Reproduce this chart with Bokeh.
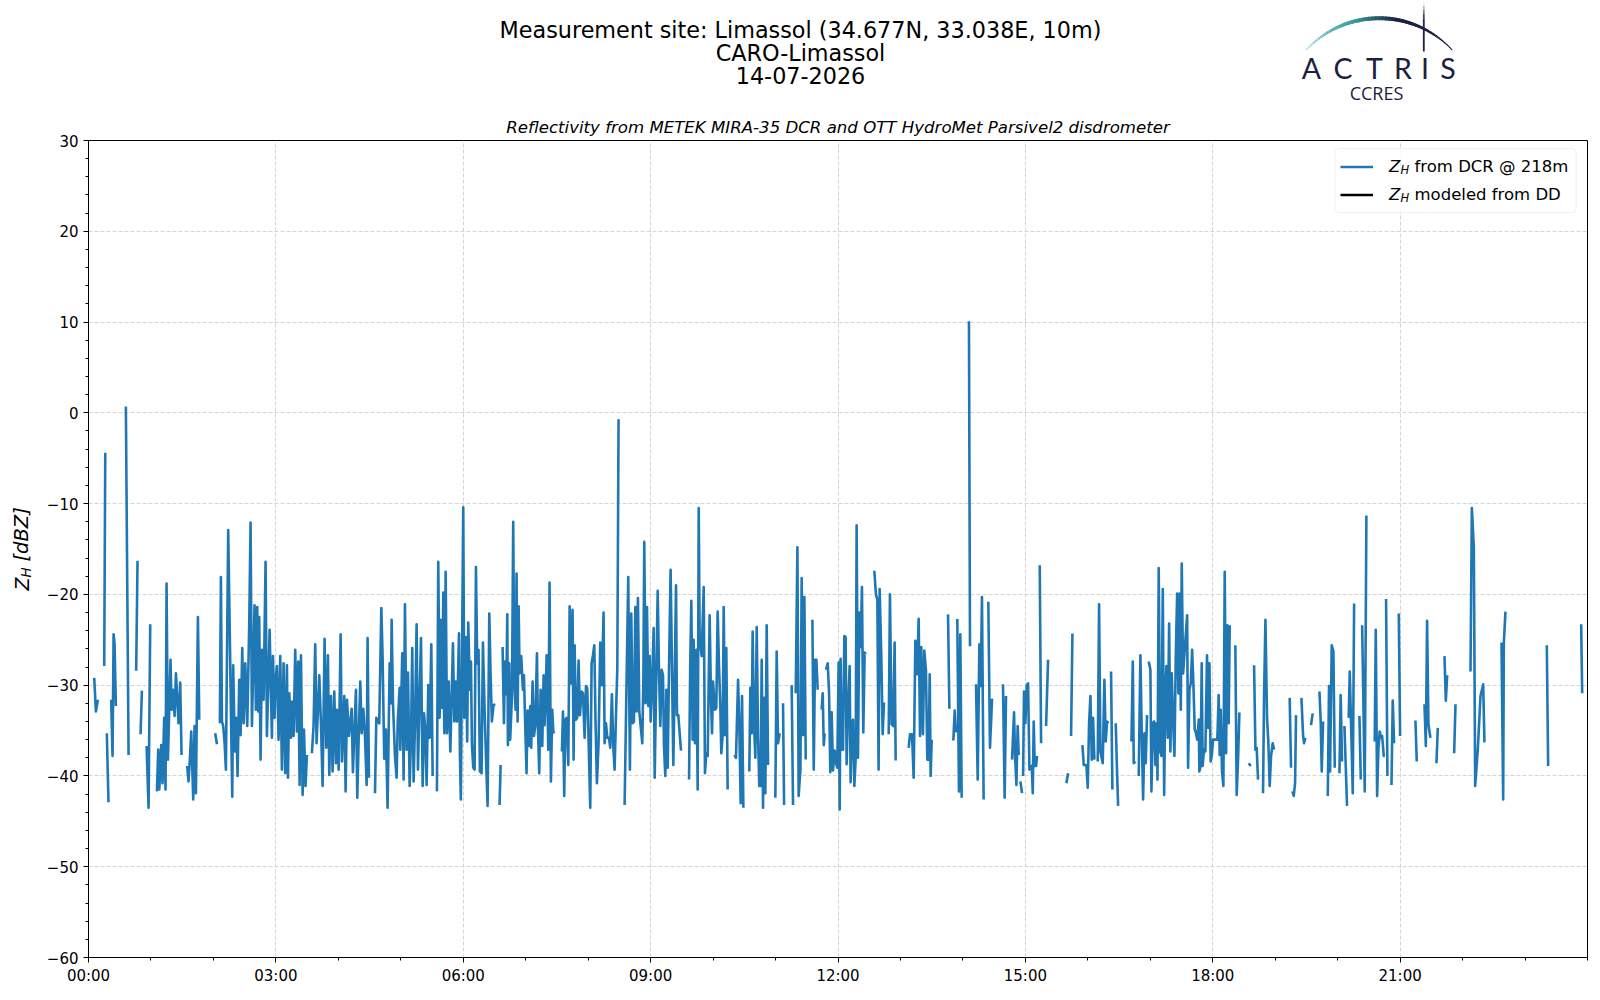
import math
from bokeh.plotting import figure
from bokeh.models import Range1d, FixedTicker, Label, Legend, LegendItem, ColumnDataSource, BoxAnnotation
from bokeh.layouts import column, row
from bokeh.embed import file_html
from bokeh.resources import INLINE

nan = float("nan")

# ---------------- data: time in minutes after 00:00 UTC, Z_H in dBZ ----------------
t_00_03 = [5.5, 7.1, 9.0, nan,
           15.1, 16.1, nan, 17.6, 19.2, nan,
           21.8, 23.1, 24.1, 25.0, 26.3, nan,
           35.9, 38.5, nan, 45.8, 47.1, nan, 50.0, 51.3, nan,
           55.8, 57.7, 59.3, nan,
           65.7, 67.0, 68.0, 69.9, 71.1, 72.7, 74.0, 75.0, 76.3, 78.8, 79.8, 81.1, 82.7, 84.0, 86.5, 88.1, 89.4, nan,
           94.8, 96.1, 97.4, 98.7, 100.6, 101.9, 103.2, 105.1, 106.4, nan,
           121.7, 123.4, nan,
           126.2, 127.2, 128.2, 129.4, 130.7, 132.0, 134.2, 138.1, 139.0, 140.6, 141.9, 143.2, 144.8, 146.1,
           147.7, 149.0, 150.6, 152.5, 154.4, 155.7, 157.0, 159.5, 160.8, 162.1, 163.1, 164.0, 165.3, 166.6,
           168.2, 170.1, 171.4, 174.0, 176.2, 177.2, 178.8]
z_00_03 = [-29.2, -32.9, -31.6, nan,
           -27.9, -4.4, nan, -35.3, -42.9, nan,
           -31.6, -37.8, -24.4, -25.4, -32.3, nan,
           0.7, -37.7, nan, -28.4, -16.3, nan, -35.4, -30.6, nan,
           -36.7, -43.5, -23.3, nan,
           -41.7, -37.1, -41.5, -36.6, -40.8, -33.6, -41.5, -18.8, -38.2, -27.2, -32.7, -30.5, -33.4, -28.7, -34.2, -29.7, -37.7, nan,
           -38.9, -40.6, -38.2, -35.1, -42.6, -34.5, -41.9, -22.5, -33.8, nan,
           -35.3, -36.5, nan,
           -34.2, -18.1, -34.0, -34.5, -36.3, -39.3, -12.9, -42.3, -27.8, -37.3, -33.6, -40.0, -29.4, -35.5,
           -25.9, -34.2, -27.6, -34.5, -23.2, -12.1, -34.5, -21.2, -32.7, -21.4, -32.9, -22.5, -38.2, -26.1,
           -31.6, -16.4, -35.6, -23.9, -35.8, -26.8, -33.6]

t_03_06 = [179.4, 181.0, 182.6, 184.2, 185.8, 187.4, 189.0, 190.6, 191.6, 192.9, 194.5, 195.7, 197.0, 198.6,
           200.2, 201.5, 202.8, 204.1, 205.7, 207.0, 208.5, 209.8, nan,
           214.6, 216.2, 217.8, 219.1, 221.7, 223.3, 224.9, 226.8, 228.4, 230.0, 231.3, 232.9, 234.5, 236.1,
           237.7, 238.7, 240.3, 242.2, 243.5, 245.7, 247.0, 248.3, 250.2, 252.8, 254.0, 256.9, 258.2, 259.5,
           261.1, 262.4, 264.0, 265.6, 267.2, 268.1, 269.4, nan,
           275.2, 276.5, 279.3, 281.3, 282.5, 284.1, 285.7, 287.3, 289.3, 290.5, 291.2, 292.5, 294.4, 296.0,
           297.0, 298.9, 299.5, 301.4, 302.7, 304.0, 305.6, 306.9, 308.5, 309.8, 311.0, 312.3, 313.6, 315.2,
           316.5, 317.8, 319.4, 321.0, 322.3, 323.5, 324.8, 326.4, 327.7, 329.3, 330.6, nan,
           334.7, 336.0, 337.3, 338.6, 339.9, 340.8, 341.8, 343.1, 344.4, 346.0, 347.6, 350.1, 351.4, 352.7,
           354.0, 355.9]
z_03_06 = [-29.8, -27.9, -36.0, -26.8, -39.3, -27.6, -39.7, -27.8, -40.2, -30.9, -35.8, -31.8, -35.6, -26.1,
           -35.1, -27.4, -41.0, -26.7, -42.1, -34.9, -41.1, -37.7, nan,
           -37.5, -34.5, -25.5, -36.4, -28.9, -34.2, -41.1, -24.9, -36.9, -26.7, -39.9, -31.2, -39.5, -30.7,
           -38.6, -32.7, -39.3, -24.4, -38.4, -31.2, -41.7, -31.6, -35.6, -32.6, -39.6, -30.5, -42.4, -36.0,
           -29.6, -35.3, -32.6, -35.6, -41.0, -24.8, -40.2, nan,
           -41.9, -33.6, -34.2, -21.5, -26.8, -38.1, -34.9, -43.5, -27.6, -32.0, -22.8, -32.0, -37.8, -40.2,
           -34.2, -30.3, -37.1, -26.5, -40.4, -21.1, -37.1, -28.6, -41.1, -36.0, -25.9, -40.6, -34.5, -23.3,
           -39.3, -32.7, -24.8, -41.1, -33.1, -34.9, -41.0, -30.0, -35.8, -25.5, -40.0, nan,
           -41.7, -16.4, -33.6, -22.8, -32.5, -19.8, -35.3, -17.5, -35.3, -29.6, -37.3, -25.4, -34.0, -29.6,
           -34.0, -24.3]

t_06_09 = [356.8, 357.7, 360.0, 361.0, 362.5, 363.8, 364.8, 366.4, 367.4, 368.3, 369.6, 370.9, 372.2, 373.4,
           374.7, 376.0, 377.6, 378.9, 380.5, 381.8, 383.4, 385.0, 386.3, 387.5, 389.1, 390.7, nan,
           394.9, 395.9, nan,
           397.8, 399.1, 400.0, 401.3, 402.3, 402.9, 404.2, 405.1, 406.8, 408.0, 409.0, 410.3, 411.2, 412.2,
           413.2, 414.1, 415.7, 417.3, 418.3, 419.6, 420.8, 421.8, 422.8, 424.4, 425.3, 426.6, 427.9, 429.2,
           430.8, 431.7, 433.0, 434.3, 435.9, 437.2, 438.1, 439.1, 440.1, 441.7, 442.9, 444.2, 445.5, 446.5,
           447.4, nan,
           454.8, 455.8, 457.0, 458.0, 459.3, 460.9, 462.2, 463.4, 465.0, 466.0, 467.0, 468.2, 469.5, 470.8,
           472.1, 473.7, 475.0, 476.6, 477.9, 479.1, 480.4, 482.0, 483.3, 484.6, 485.9, 487.1, 488.4, 490.0,
           491.6, 493.2, 494.8, 495.8, 497.1, 498.4, 500.0, 501.2, 502.8, 504.1, 505.4, 506.7, 508.0, 509.2, nan,
           515.0, 518.5, 520.1, 521.4, 522.7, 524.0, 525.3, 526.5, 527.8, 529.1]
z_06_09 = [-37.7, -42.6, -10.4, -33.6, -24.7, -36.2, -23.1, -30.5, -27.4, -36.4, -39.1, -39.3, -17.0, -27.6,
           -26.1, -39.5, -39.7, -25.3, -32.7, -37.8, -43.3, -22.1, -29.0, -34.0, -32.2, -32.1, nan,
           -43.2, -38.8, nan,
           -25.8, -34.2, -27.4, -31.0, -22.2, -36.6, -27.6, -36.0, -31.1, -12.0, -29.4, -32.7, -17.7, -34.0,
           -21.3, -28.7, -26.8, -30.5, -28.9, -34.7, -39.7, -32.8, -36.7, -32.3, -36.9, -29.6, -35.6, -34.5,
           -26.5, -34.4, -39.7, -30.5, -36.7, -28.9, -34.4, -31.2, -26.7, -37.1, -18.7, -40.6, -32.7, -35.1,
           -35.3, nan,
           -37.3, -32.9, -42.2, -33.8, -33.6, -38.8, -21.3, -29.8, -21.7, -38.2, -25.6, -33.8, -33.6, -27.3,
           -33.3, -30.7, -30.9, -35.8, -30.1, -30.3, -36.0, -43.5, -27.6, -26.7, -25.6, -34.2, -40.8, -36.4,
           -25.3, -30.0, -22.0, -36.4, -34.2, -35.8, -35.8, -36.9, -31.0, -36.7, -39.3, -33.4, -28.1, -0.7, nan,
           -43.2, -18.1, -39.3, -22.1, -34.2, -34.0, -21.4, -32.9, -20.4, -32.9]

t_09_12 = [532.0, 533.0, 533.9, 535.2, 536.5, 537.8, 539.1, 540.0, 541.3, 542.9, 543.9, 545.2, 546.8, 548.0,
           549.3, 550.6, 551.9, 552.8, 554.1, 555.1, 556.4, 557.6, 559.2, 561.8, 563.1, 564.4, 565.3, 566.6,
           567.9, 569.2, nan,
           576.9, 578.1, 579.1, 580.4, 581.3, 582.6, 583.9, 585.2, 586.2, 587.1, 589.0, 591.0, 592.2, 593.5,
           594.8, 596.7, 598.0, 599.0, 599.9, 601.8, 603.1, 604.4, 605.7, 607.0, 607.9, 609.2, 610.2, 611.5,
           612.7, 614.0, nan,
           620.4, 622.0, 624.0, 625.2, 626.5, 627.8, 629.1, nan,
           634.8, 635.8, 637.1, 638.0, 639.3, 640.6, 641.9, 643.2, 644.4, 645.7, 646.7, 648.0, 648.9, 650.2,
           651.5, 652.8, nan,
           659.8, 661.1, 662.4, 664.0, nan, 667.2, 668.2, nan, 675.5, 676.8, nan,
           679.4, 681.0, 682.2, 683.9, 685.1, 686.4, 687.7, 689.0, nan,
           695.4, 696.7, 697.9, 699.2, 700.5, nan,
           704.3, 705.3, 706.3, 707.2, nan,
           708.5, 710.1, 711.4]
z_09_12 = [-36.4, -29.4, -14.2, -32.0, -21.4, -32.3, -26.8, -34.0, -30.5, -23.7, -40.2, -30.5, -19.6, -28.3,
           -34.5, -28.3, -28.9, -36.6, -40.0, -30.5, -39.1, -28.7, -17.3, -38.8, -29.4, -19.0, -33.3, -33.3,
           -35.3, -37.2, nan,
           -40.4, -27.2, -20.7, -36.0, -25.0, -36.4, -26.1, -41.5, -10.5, -24.8, -26.8, -19.2, -39.7, -37.5,
           -37.8, -22.3, -31.6, -35.3, -29.6, -32.7, -32.5, -21.9, -27.9, -32.5, -37.5, -35.5, -21.4, -35.5,
           -25.9, -41.5, nan,
           -37.7, -38.0, -29.4, -34.5, -43.0, -31.2, -43.5, nan,
           -39.5, -30.3, -35.3, -24.1, -34.2, -38.0, -23.6, -35.6, -41.1, -41.1, -27.2, -43.5, -31.4, -41.9,
           -23.4, -38.8, nan,
           -42.4, -26.3, -36.4, -35.3, nan, -32.0, -43.2, nan, -30.0, -43.2, nan,
           -30.9, -14.8, -42.2, -39.3, -18.2, -35.5, -20.3, -38.2, nan,
           -22.8, -39.3, -27.2, -27.2, -30.5, nan,
           -32.7, -30.9, -36.6, -35.3, nan,
           -28.3, -27.6, -30.7]

t_12_15 = [712.6, 713.9, 715.2, 716.8, 718.4, 719.3, 720.6, 721.6, 722.5, 723.5, 724.8, 726.1, 727.3, 728.3,
           729.6, 731.2, 732.1, 733.4, 734.4, 735.7, 737.0, 737.9, 739.2, 740.5, 741.8, 743.0, 744.3, 745.6,
           746.6, nan,
           754.9, 756.5, 757.8, 759.0, 760.0, 761.6, 762.9, 764.2, nan,
           768.7, 769.9, 771.5, 773.1, 774.4, 775.4, nan,
           787.9, 789.2, 791.1, 792.7, 794.3, 795.9, 797.5, 798.8, 800.0, 801.6, 802.9, 804.5, 805.8, 807.1,
           808.1, 809.0, 810.0, nan,
           825.7, 827.0, nan, 830.8, 832.1, 833.4, nan, 834.6, 836.2, 837.5, 838.8, nan,
           845.8, 846.8, nan,
           852.6, 854.2, 855.8, 857.1, 858.3, 859.9, nan,
           864.4, 866.0, 868.0, nan, 878.5, 880.1, 881.4, nan, 887.2, 889.1]
z_12_15 = [-39.6, -33.0, -39.4, -37.2, -38.7, -39.1, -27.5, -43.7, -27.1, -37.1, -37.1, -24.6, -24.7, -38.7,
           -32.8, -27.9, -40.7, -34.1, -33.8, -41.1, -38.0, -12.4, -38.0, -22.0, -25.8, -19.2, -35.2, -26.4,
           -26.6, nan,
           -17.4, -20.1, -20.5, -39.3, -19.4, -26.8, -35.4, -31.9, nan,
           -35.4, -20.0, -34.3, -34.5, -25.3, -38.3, nan,
           -36.9, -35.4, -35.4, -40.2, -25.1, -28.8, -22.7, -35.6, -25.8, -35.4, -26.2, -28.4, -38.2, -38.2,
           -28.8, -40.0, -36.0, nan,
           -22.2, -32.6, nan, -36.1, -32.8, -35.2, nan, -22.7, -41.7, -24.4, -42.4, nan,
           10.1, -25.7, nan,
           -29.9, -40.4, -25.5, -30.1, -20.3, -42.6, nan,
           -20.8, -36.9, -31.5, nan, -29.9, -42.4, -31.2, nan, -38.2, -33.0]

t_15_18 = [890.1, 891.4, 892.6, 893.6, nan, 895.2, 896.8, nan,
           897.8, 898.7, 900.0, 901.3, 902.6, 903.9, 905.1, 906.1, 907.1, 908.0, 909.0, 910.3, 911.2, nan,
           913.8, 915.1, nan, 919.9, 921.8, nan, 939.4, 941.0, nan, 943.9, 945.2, nan,
           954.8, 956.1, 958.6, 959.9, 961.2, 962.5, 963.8, 965.0, 966.3, nan,
           969.5, 970.8, 972.1, 974.3, 975.9, 977.2, 978.5, 979.8, nan,
           982.3, 983.6, nan, 986.8, 988.1, 989.1, nan,
           1001.9, 1003.2, 1004.1, 1005.7, nan,
           1008.9, 1010.5, 1011.8, 1013.1, 1014.4, 1015.6, 1016.9, nan,
           1018.5, 1020.1, 1021.1, 1022.4, 1023.7, 1024.9, 1026.2, 1026.9, 1028.1, 1029.4, 1030.7, 1032.0,
           1033.3, 1034.5, 1035.5, 1036.8, 1038.1, 1039.3, 1040.6, 1041.9, 1043.2, 1044.5, 1045.8, 1047.0,
           1048.3, 1049.3, 1050.2, 1051.5, 1055.4, 1056.3, 1057.6, 1058.9, 1060.2, 1061.4, 1062.7, 1064.0,
           1065.0, 1066.6]
z_15_18 = [-37.8, -41.0, -34.5, -37.7, nan, -40.6, -41.9, nan,
           -40.0, -30.7, -34.2, -30.0, -29.8, -39.3, -39.1, -38.9, -41.9, -34.0, -38.9, -38.9, -37.8, nan,
           -16.8, -36.4, nan, -34.5, -27.2, nan, -40.8, -39.7, nan, -35.6, -24.3, nan,
           -36.6, -38.8, -38.8, -41.3, -34.2, -31.2, -38.2, -33.6, -38.2, nan,
           -38.4, -21.1, -37.3, -38.6, -29.4, -36.2, -34.0, -34.2, nan,
           -28.5, -41.5, nan, -34.2, -39.7, -43.3, nan,
           -36.2, -27.4, -38.6, -38.4, nan,
           -40.0, -26.7, -35.3, -42.6, -35.3, -38.6, -33.3, nan,
           -27.4, -28.3, -41.7, -34.2, -34.0, -38.8, -34.2, -40.4, -17.1, -37.3, -37.8, -19.4,
           -42.1, -30.5, -27.9, -35.8, -23.2, -37.3, -28.7, -33.8, -37.8, -26.8, -19.9, -30.9,
           -19.9, -32.7, -16.6, -28.7, -22.3, -39.1, -30.5, -29.8, -26.1, -29.8, -34.9, -35.3,
           -36.0, -33.8]

t_18_21 = [1067.1, 1068.4, 1069.4, 1070.3, 1071.6, 1072.9, 1074.5, 1075.5, 1076.8, 1078.0, 1079.3, 1080.3,
           1081.6, 1082.8, 1084.4, 1085.7, 1086.7, 1087.6, 1088.9, 1090.2, 1091.5, 1092.8, 1094.0, 1095.3,
           1096.3, nan,
           1101.7, 1103.0, 1104.3, 1105.6, nan, 1114.5, 1116.5, nan,
           1119.7, 1121.0, 1122.2, 1123.5, nan,
           1128.3, 1129.3, 1130.6, 1132.2, 1133.4, 1134.7, 1136.0, 1137.6, 1138.9, nan,
           1153.9, 1155.2, nan, 1156.5, 1157.8, 1159.1, 1160.0, nan,
           1165.2, 1166.8, 1167.7, 1169.0, nan, 1174.4, 1176.0, nan,
           1182.5, 1183.7, 1184.7, 1186.0, nan,
           1190.5, 1191.7, 1192.7, 1194.3, 1195.9, 1197.2, nan,
           1201.7, 1202.9, 1204.2, nan, 1206.5, 1209.0, nan,
           1210.6, 1211.6, 1213.2, 1214.5, 1215.8, nan, 1220.9, 1222.2, nan,
           1223.5, 1224.7, 1226.0, 1227.6, nan,
           1235.6, 1236.6, 1237.9, 1239.1, 1240.4, 1241.7, 1242.7, 1244.3, 1245.3, nan]
z_18_21 = [-39.5, -38.9, -27.6, -38.9, -37.1, -37.3, -26.7, -34.7, -27.6, -38.4, -37.5, -36.0,
           -36.0, -36.0, -36.0, -31.1, -37.7, -32.7, -39.5, -41.1, -17.5, -37.5, -23.4, -34.2,
           -23.4, nan,
           -25.6, -42.1, -38.2, -33.0, nan, -38.6, -38.9, nan,
           -27.8, -37.1, -36.9, -40.4, nan,
           -41.9, -31.2, -22.8, -33.8, -36.2, -41.1, -37.8, -36.4, -37.1, nan,
           -31.4, -39.1, nan, -41.7, -42.2, -40.8, -33.3, nan,
           -31.4, -35.6, -36.4, -35.8, nan, -34.4, -33.1, nan,
           -30.7, -34.0, -39.5, -34.0, nan,
           -42.2, -30.1, -39.5, -25.6, -26.3, -39.1, nan,
           -39.7, -31.1, -38.4, nan, -34.5, -43.3, nan,
           -33.6, -28.5, -35.8, -41.9, -21.0, nan, -33.4, -40.4, nan,
           -23.4, -31.8, -41.7, -11.3, nan,
           -36.2, -23.9, -42.2, -37.1, -35.1, -35.8, -35.6, -37.8, -37.8, nan]

t_21_24 = [1246.5, 1247.8, nan, 1251.7, 1252.9, 1254.2, nan, 1258.7, 1260.0, nan,
           1274.7, 1276.0, nan, 1283.4, 1284.7, 1285.9, 1287.2, 1289.1, nan,
           1294.9, 1296.2, nan, 1302.6, 1303.9, 1305.2, nan, 1311.9, 1313.2, nan,
           1327.6, 1328.9, 1330.8, 1332.1, 1334.6, 1337.2, 1339.8, 1341.0, nan,
           1357.4, 1359.0, 1359.6, 1361.2, nan,
           1400.9, 1402.2, nan, 1433.9, 1434.9]
z_21_24 = [-20.5, -40.0, nan, -41.0, -31.7, -36.4, nan, -22.1, -35.6, nan,
           -33.9, -38.4, nan, -32.1, -36.7, -22.9, -34.3, -35.8, nan,
           -38.6, -34.7, nan, -26.8, -31.7, -28.9, nan, -37.5, -32.1, nan,
           -28.5, -10.5, -14.8, -41.1, -37.1, -31.2, -29.9, -36.3, nan,
           -25.3, -42.6, -25.4, -21.9, nan,
           -25.6, -38.9, nan, -23.3, -30.9]

# modeled reflectivity from the disdrometer: no valid value on this day
t_dd = [0.0]
z_dd = [nan]

x_tick_minutes = [0, 180, 360, 540, 720, 900, 1080, 1260]
x_tick_labels = ["00:00", "03:00", "06:00", "09:00", "12:00", "15:00", "18:00", "21:00"]
y_tick_values = [-60, -50, -40, -30, -20, -10, 0, 10, 20, 30]

title_lines = ["Measurement site: Limassol (34.677N, 33.038E, 10m)", "CARO-Limassol", "14-07-2026"]
subtitle = "Reflectivity from METEK MIRA-35 DCR and OTT HydroMet Parsivel2 disdrometer"
legend_texts = ["from DCR @ 218m", "modeled from DD"]

t_dcr = t_00_03 + t_03_06 + t_06_09 + t_09_12 + t_12_15 + t_15_18 + t_18_21 + t_21_24
z_dcr = z_00_03 + z_03_06 + z_06_09 + z_09_12 + z_12_15 + z_15_18 + z_18_21 + z_21_24

FONT = "DejaVu Sans"
NAVY = "#1b2142"
TOTAL_W = 1592
FL, FR, FT, FB = 88.0, 1587.0, 140.0, 957.0   # frame edges in page pixels
LAB_W = 38
HDR_H = 110
TOP_B = int(FT) - HDR_H
BOT_B = 32
MAIN_H = int(FB) + BOT_B - HDR_H

# ---------------- header (titles + logo), drawn in page pixel coordinates ----------------
hdr = figure(width=TOTAL_W, height=HDR_H, x_range=Range1d(FL, FR), y_range=Range1d(HDR_H, 0),
             output_backend="svg", toolbar_location=None,
             min_border_left=int(FL), min_border_right=int(TOTAL_W - FR), min_border_top=0, min_border_bottom=0,
             x_axis_location=None, y_axis_location=None)
hdr.grid.visible = False
hdr.outline_line_color = None

for line, yy in zip(title_lines, [29.5, 52.5, 75]):
    hdr.add_layout(Label(x=800, y=yy, text=line, text_align="center", text_baseline="middle",
                         text_font=FONT, text_font_size="22.3px", text_color="black"))

# logo arc
cx, cy, R = 1378.7, 117.4, 99.7
a0, a1 = math.radians(136.9), math.radians(43.1)
N = 48
xs, ys, cols, wids, alps = [], [], [], [], []
c_light, c_teal, c_navy = (140, 208, 204), (58, 156, 160), (27, 33, 66)
def mix(c1, c2, f):
    return "#%02x%02x%02x" % tuple(int(round(c1[k] + (c2[k] - c1[k]) * f)) for k in range(3))
for i in range(N):
    f0, f1 = i / N, (i + 1) / N
    aa, bb = a0 + (a1 - a0) * f0, a0 + (a1 - a0) * f1
    xs.append([cx + R * math.cos(aa), cx + R * math.cos(bb)])
    ys.append([cy - R * math.sin(aa), cy - R * math.sin(bb)])
    fm = (f0 + f1) / 2
    if fm < 0.35:
        cols.append(mix(c_light, c_teal, fm / 0.35))
    elif fm < 0.62:
        cols.append(mix(c_teal, c_navy, (fm - 0.35) / 0.27))
    else:
        cols.append(mix(c_navy, c_navy, 0))
    wids.append(1.1 + 2.9 * math.sin(math.pi * min(1.0, fm * 1.05)))
    alps.append(0.6 + 0.4 * min(1.0, fm / 0.3))
hdr.multi_line(xs=xs, ys=ys, line_color=cols, line_width=wids, line_alpha=alps, line_cap="round")
vx, vy, va = [], [], []
for i in range(12):
    y0 = 1.5 + i * 4.1
    vx.append([1423.3, 1423.3])
    vy.append([y0, y0 + 4.3])
    va.append(min(1.0, 0.08 + i * 0.25))
hdr.multi_line(xs=vx, ys=vy, line_color=NAVY, line_width=1.8, line_alpha=va)
for ch, xx in zip("ACTRIS", [1311, 1342.5, 1374, 1402.5, 1424.5, 1447.5]):
    hdr.add_layout(Label(x=xx, y=67, text=ch, text_align="center", text_baseline="middle",
                         text_font="Lato", text_font_size="28.5px", text_color=NAVY))
hdr.add_layout(Label(x=1376, y=92, text="CCRES", text_align="center", text_baseline="middle",
                     text_font="Open Sans", text_font_size="18px", text_color=NAVY))

# ---------------- main plot ----------------
y_range = Range1d(-60, 30)
p = figure(width=TOTAL_W - LAB_W, height=MAIN_H, x_range=Range1d(0, 1440), y_range=y_range,
           output_backend="svg", toolbar_location=None,
           min_border_left=int(FL) - LAB_W, min_border_right=int(TOTAL_W - FR),
           min_border_top=TOP_B, min_border_bottom=BOT_B)
p.title.text = subtitle
p.title.align = "center"
p.title.text_font = FONT
p.title.text_font_style = "italic"
p.title.text_font_size = "16.6px"
p.title.text_color = "black"
p.title.standoff = 8
p.background_fill_color = "white"
p.border_fill_color = "white"
p.outline_line_color = "black"
p.outline_line_width = 1
p.outline_line_alpha = 1

p.xaxis.ticker = FixedTicker(ticks=x_tick_minutes, minor_ticks=list(range(0, 1441, 60)))
p.xaxis.major_label_overrides = {m: s for m, s in zip(x_tick_minutes, x_tick_labels)}
p.yaxis.ticker = FixedTicker(ticks=y_tick_values, minor_ticks=list(range(-60, 31, 2)))
p.yaxis.major_label_overrides = {v: (("\u2212" + str(abs(v))) if v < 0 else str(v)) for v in y_tick_values}
for ax in (p.xaxis, p.yaxis):
    ax.major_label_text_font = FONT
    ax.major_label_text_font_size = "15px"
    ax.major_label_text_color = "black"
    ax.axis_line_color = "black"
    ax.axis_line_width = 1
    ax.major_tick_line_color = "black"
    ax.minor_tick_line_color = "black"
    ax.major_tick_in = 0
    ax.major_tick_out = 5
    ax.minor_tick_in = 0
    ax.minor_tick_out = 3
p.xaxis.major_label_standoff = 4
p.yaxis.major_label_standoff = 5

for g in (p.xgrid, p.ygrid):
    g.grid_line_color = "#d4d4d4"
    g.grid_line_dash = "4 2"
    g.grid_line_width = 1

def mx(px):
    return (px - FL) * 1440.0 / (FR - FL)
def my(py):
    return 30.0 - (py - FT) * 90.0 / (FB - FT)

# legend frame (under the legend handles and texts)
p.add_layout(BoxAnnotation(left=mx(1334.5), right=mx(1575.7), top=my(148.0), bottom=my(212.0),
                           fill_color="white", fill_alpha=0.85, line_color="#cccccc", line_width=1,
                           border_radius=4, level="underlay"))

src = ColumnDataSource(dict(t=t_dcr, z=z_dcr))
r_dcr = p.line(x="t", y="z", source=src, line_color="#1f77b4", line_width=2.6, line_join="round")
r_dd = p.line(x="t", y="z", source=ColumnDataSource(dict(t=t_dd, z=z_dd)), line_color="black", line_width=2.6)

legend = Legend(items=[LegendItem(label=" ", renderers=[r_dcr]), LegendItem(label=" ", renderers=[r_dd])],
                location=(1246, 744), orientation="vertical", padding=6, spacing=3, margin=0,
                glyph_width=33, glyph_height=25, label_height=25, label_width=180, label_standoff=14,
                border_line_color="white", border_line_alpha=0, background_fill_color="white",
                background_fill_alpha=0, label_text_font_size="1px")
p.add_layout(legend)

for txt, row_y in zip(legend_texts, [165.5, 193.5]):
    p.add_layout(Label(x=mx(1388.5), y=my(row_y), text="Z", text_align="left", text_baseline="middle",
                       text_font=FONT, text_font_style="italic", text_font_size="16.5px", text_color="black",
                       level="overlay"))
    p.add_layout(Label(x=mx(1400.0), y=my(row_y + 3.5), text="H", text_align="left", text_baseline="middle",
                       text_font=FONT, text_font_style="italic", text_font_size="11.5px", text_color="black",
                       level="overlay"))
    p.add_layout(Label(x=mx(1414.0), y=my(row_y), text=txt, text_align="left", text_baseline="middle",
                       text_font=FONT, text_font_size="16.5px", text_color="black", level="overlay"))

# ---------------- y-axis label panel:  Z_H [dBZ] ----------------
ylab = figure(width=LAB_W, height=MAIN_H, x_range=Range1d(0, LAB_W), y_range=y_range,
              output_backend="svg", toolbar_location=None,
              min_border_left=0, min_border_right=0, min_border_top=TOP_B, min_border_bottom=BOT_B,
              x_axis_location=None, y_axis_location=None)
ylab.grid.visible = False
ylab.outline_line_color = None
ylab.add_layout(Label(x=21, y=my(590), text="Z", angle=math.pi / 2, text_align="left", text_baseline="middle",
                      text_font=FONT, text_font_style="italic", text_font_size="19px", text_color="black"))
ylab.add_layout(Label(x=25.5, y=my(577), text="H", angle=math.pi / 2, text_align="left", text_baseline="middle",
                      text_font=FONT, text_font_style="italic", text_font_size="13.5px", text_color="black"))
ylab.add_layout(Label(x=21, y=my(561), text="[dBZ]", angle=math.pi / 2, text_align="left", text_baseline="middle",
                      text_font=FONT, text_font_style="italic", text_font_size="19.5px", text_color="black"))

layout = column(hdr, row(ylab, p, spacing=0), spacing=0)
open("out.html", "w").write(file_html(layout, INLINE))
